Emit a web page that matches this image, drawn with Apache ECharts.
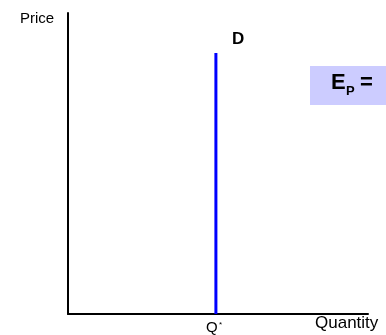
<!DOCTYPE html>
<html>
<head>
<meta charset="utf-8">
<script src="https://cdn.jsdelivr.net/npm/echarts@6/dist/echarts.min.js"></script>
<style>
  html, body { margin: 0; padding: 0; background: #fff; }
  #chart { width: 386px; height: 335px; }
</style>
</head>
<body>
<div id="chart"></div>
<script>
// perfectly inelastic demand: vertical line at Q*
const quantities = [49.3, 49.3];
const prices = [0, 86.7];
const axisNames = ['Quantity', 'Price'];
const curveLabel = 'D';

var dom = document.getElementById('chart');
var myChart = echarts.init(dom, null, { renderer: 'canvas' });

var font = '"Liberation Sans", Arial, sans-serif';

var option = {
  animation: false,
  grid: { left: 68, right: 18, top: 13, bottom: 21 },
  xAxis: {
    type: 'value', min: 0, max: 100,
    axisLine: { show: true, onZero: false, lineStyle: { color: '#000', width: 2 } },
    axisTick: { show: false }, axisLabel: { show: false }, splitLine: { show: false }
  },
  yAxis: {
    type: 'value', min: 0, max: 100,
    axisLine: { show: true, onZero: false, lineStyle: { color: '#000', width: 2 } },
    axisTick: { show: false }, axisLabel: { show: false }, splitLine: { show: false }
  },
  series: [{
    type: 'line',
    data: quantities.map((q, i) => [q, prices[i]]),
    symbol: 'none',
    lineStyle: { color: '#0000ff', width: 3 },
    z: 1
  }],
  graphic: [
    { type: 'text', left: 20, top: 11, style: { text: axisNames[1], font: '15px ' + font, fill: '#000' } },
    { type: 'text', left: 315, top: 315, style: { text: axisNames[0], font: '17px ' + font, fill: '#000' } },
    { type: 'text', left: 232, top: 31, style: { text: curveLabel, font: 'bold 17px ' + font, fill: '#000' } },
    { type: 'text', left: 206, top: 320, style: { text: 'Q', font: '15px ' + font, fill: '#000' } },
    { type: 'text', left: 219, top: 321, style: { text: '*', font: '8px ' + font, fill: '#000' } },
    { type: 'rect', shape: { x: 310, y: 66, width: 76, height: 39 }, style: { fill: '#ccccff' } },
    { type: 'text', left: 331, top: 72, style: { text: 'E', font: 'bold 22px ' + font, fill: '#000' } },
    { type: 'text', left: 346, top: 85, style: { text: 'P', font: 'bold 13px ' + font, fill: '#000' } },
    { type: 'text', left: 360, top: 72, style: { text: '=', font: 'bold 22px ' + font, fill: '#000' } }
  ]
};

myChart.setOption(option);
window.addEventListener('resize', myChart.resize);
</script>
</body>
</html>
